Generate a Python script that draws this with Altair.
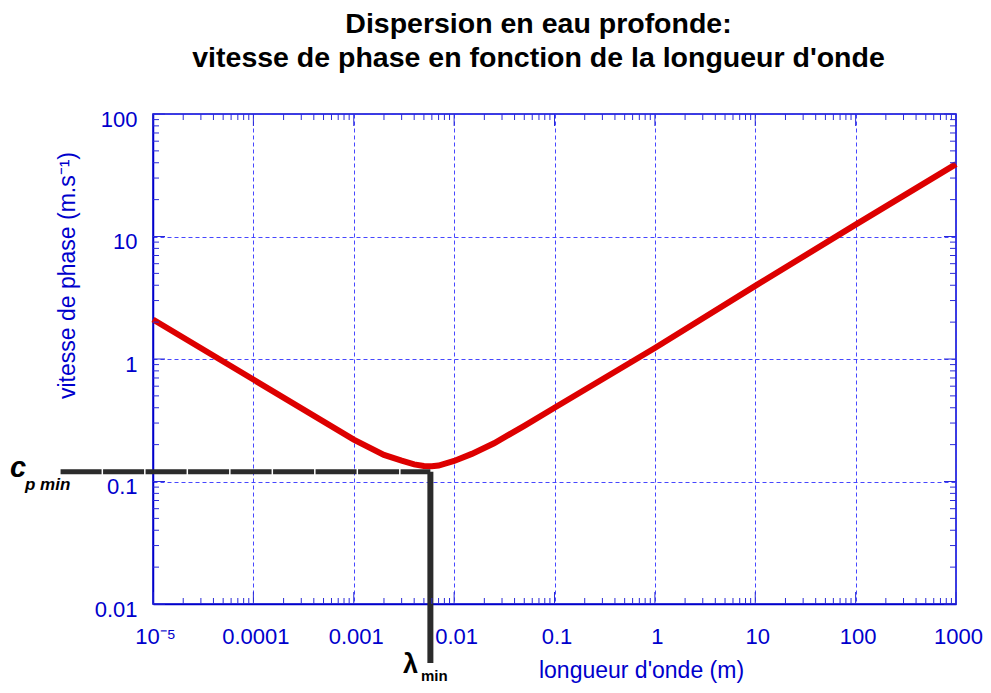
import altair as alt
import pandas as pd

# ---- data ----
lam = [1e-5, 1e-4, 1e-3, 0.002, 0.003, 0.004, 0.005, 0.006, 0.007, 0.01, 0.015,
       0.025, 0.05, 0.1, 1, 10, 100, 1000]
c = [2.1, 0.68, 0.22, 0.165, 0.148, 0.138, 0.134, 0.133, 0.135, 0.147, 0.168,
     0.205, 0.285, 0.40, 1.23, 3.95, 12.5, 39.0]

x_major = [1e-5, 1e-4, 1e-3, 0.01, 0.1, 1, 10, 100, 1000]
y_major = [0.01, 0.1, 1, 10, 100]
minor_mult = [2, 3, 4, 5, 6, 7, 8, 9]
x_exponents = [-5, -4, -3, -2, -1, 0, 1, 2]
y_exponents = [-2, -1, 0, 1]

# minimum annotation (lambda_min, c_p min) and the extents of its guide lines
lam_min = 0.0058
c_min = 0.12
hline_left = 1.2e-6
vline_bottom = 0.0033

title_lines = ["Dispersion en eau profonde:",
               "vitesse de phase en fonction de la longueur d'onde"]
x_title = "longueur d'onde (m)"
y_title = "vitesse de phase (m.s⁻¹)"

# ---- tables ----
df = pd.DataFrame({"lam": lam, "c": c})
x_minor = [m * 10.0 ** e for e in x_exponents for m in minor_mult]
y_minor = [m * 10.0 ** e for e in y_exponents for m in minor_mult]
dfx_minor = pd.DataFrame({"v": x_minor})
dfy_minor = pd.DataFrame({"v": y_minor})
dfx_major = pd.DataFrame({"v": x_major})
dfy_major = pd.DataFrame({"v": y_major})
df_h = pd.DataFrame({"x1": [hline_left], "x2": [lam_min], "y": [c_min]})
df_v = pd.DataFrame({"x": [lam_min], "y1": [c_min], "y2": [vline_bottom]})

W, H = 803, 490
BLUE = "#0000cc"
GRID = "#3333ff"
TICK = "#2a2ad8"
FONT = "Liberation Sans"

xscale = alt.Scale(type="log", domain=[1e-5, 1000], nice=False)
yscale = alt.Scale(type="log", domain=[0.01, 100], nice=False)

xaxis = alt.Axis(
    values=x_major,
    labelExpr="datum.value < 0.00005 ? '10⁻⁵' : format(datum.value, '~f')",
    grid=True, gridColor=GRID, gridDash=[4, 3], gridWidth=1, gridOpacity=0.9,
    ticks=False, tickSize=0,
    domain=True, domainColor=BLUE, domainWidth=1.5,
    labelFont=FONT, labelFontSize=22, labelColor=BLUE, labelPadding=22,
    labelOffset=2, labelFlush=False, labelOverlap=False,
    title=x_title, titleFont=FONT, titleFontSize=23, titleFontWeight="normal",
    titleColor=BLUE, titleX=488, titleY=73, titleAlign="center",
    titleBaseline="alphabetic",
)
yaxis = alt.Axis(
    values=y_major,
    labelExpr="format(datum.value, '~f')",
    grid=True, gridColor=GRID, gridDash=[4, 3], gridWidth=1, gridOpacity=0.9,
    ticks=False, tickSize=0,
    domain=True, domainColor=BLUE, domainWidth=1.5,
    labelFont=FONT, labelFontSize=22, labelColor=BLUE, labelPadding=16,
    labelOffset=5, labelFlush=False, labelOverlap=False,
    title=y_title, titleFont=FONT, titleFontSize=23, titleFontWeight="normal",
    titleColor=BLUE, titleX=-79, titleY=161, titleAngle=270, titleAlign="center",
    titleBaseline="alphabetic",
)

curve = alt.Chart(df).mark_line(color="#dd0000", strokeWidth=6).encode(
    x=alt.X("lam:Q", scale=xscale, axis=xaxis),
    y=alt.Y("c:Q", scale=yscale, axis=yaxis),
)

hline = alt.Chart(df_h).mark_rule(color="#2b2b2b", strokeWidth=5,
                                  strokeDash=[41, 1.5]).encode(
    x=alt.X("x1:Q", scale=xscale, axis=xaxis),
    x2="x2:Q",
    y=alt.Y("y:Q", scale=yscale, axis=yaxis),
)
vline = alt.Chart(df_v).mark_rule(color="#2b2b2b", strokeWidth=6).encode(
    x=alt.X("x:Q", scale=xscale, axis=xaxis),
    y=alt.Y("y1:Q", scale=yscale, axis=yaxis),
    y2="y2:Q",
)


def xticks(data, size, ypix):
    return alt.Chart(data).mark_tick(orient="vertical", size=size, thickness=1,
                                     color=TICK, opacity=1).encode(
        x=alt.X("v:Q", scale=xscale, axis=xaxis), y=alt.value(ypix))


def yticks(data, size, xpix):
    return alt.Chart(data).mark_tick(orient="horizontal", size=size, thickness=1,
                                     color=TICK, opacity=1).encode(
        y=alt.Y("v:Q", scale=yscale, axis=yaxis), x=alt.value(xpix))


ticks = [
    xticks(dfx_minor, 6, H - 3), xticks(dfx_minor, 6, 3),
    xticks(dfx_major, 12, H - 6), xticks(dfx_major, 12, 6),
    yticks(dfy_minor, 6, 3), yticks(dfy_minor, 6, W - 3),
    yticks(dfy_major, 12, 6), yticks(dfy_major, 12, W - 6),
]

ann = pd.DataFrame({"t": ["c", "p min", "λ", "min"]})


def label(txt, size, xpix, ypix, style="normal"):
    return alt.Chart(ann).transform_filter(alt.datum.t == txt).mark_text(
        font=FONT, fontSize=size, fontWeight="bold", fontStyle=style,
        align="left", baseline="alphabetic", color="black").encode(
        text="t:N", x=alt.value(xpix), y=alt.value(ypix))


labels = [
    label("c", 29, -143, 363, "italic"),
    label("p min", 17, -128, 376, "italic"),
    label("λ", 27, 250, 559),
    label("min", 15, 268, 567),
]

chart = alt.layer(curve, hline, vline, *ticks, *labels).properties(
    width=W, height=H,
    autosize=alt.AutoSizeParams(type="none"),
    padding={"left": 145, "top": 106, "right": 27, "bottom": 79},
    title=alt.Title(title_lines, font=FONT, fontSize=28.5, fontWeight="bold",
                    color="black", anchor="middle", dx=-16, offset=36,
                    lineHeight=34),
).configure_view(stroke=BLUE, strokeWidth=1.5)

chart.save("out.html", embed_options={"renderer": "svg", "actions": False})
